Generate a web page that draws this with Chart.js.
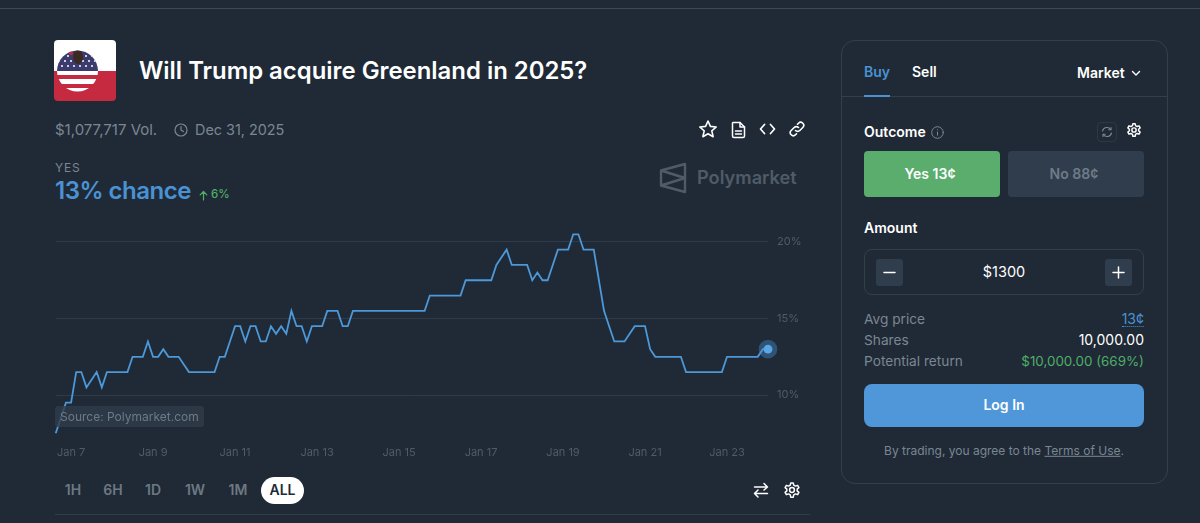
<!DOCTYPE html>
<html>
<head>
<meta charset="utf-8">
<title>Will Trump acquire Greenland in 2025?</title>
<script src="https://cdn.jsdelivr.net/npm/chart.js@4"></script>
<style>
  html, body { margin: 0; padding: 0; width: 1200px; height: 523px; overflow: hidden; background: #1f2a36; font-family: Inter, "Noto Sans", sans-serif; }
  .t { position: absolute; transform: translateY(-50%); white-space: nowrap; line-height: 1.2; }
  .c { transform: translate(-50%, -50%); }
  .r { transform: translate(-100%, -50%); }
  .box { position: absolute; box-sizing: border-box; }
  svg.i { position: absolute; fill: none; stroke-linecap: round; stroke-linejoin: round; }
  .muted { color: #7b8693; }
  .white { color: #fff; }
  .range { font-size: 14px; font-weight: 600; color: #6d7884; }
  #chartWrap { position: absolute; left: 40px; top: 210px; width: 770px; height: 255px; }
</style>
</head>
<body>

<div class="box" style="left:0;top:8px;width:1200px;height:1px;background:#3d4956"></div>

<!-- market icon -->
<svg class="i" style="left:54px;top:40px" width="62" height="61" viewBox="0 0 62 61">
  <defs>
    <clipPath id="card"><rect width="62" height="61" rx="4"/></clipPath>
    <clipPath id="disc"><circle cx="23.5" cy="31" r="20.5"/></clipPath>
  </defs>
  <g clip-path="url(#card)" stroke="none">
    <rect width="62" height="31" fill="#fff"/>
    <rect y="31" width="62" height="30" fill="#c62a40"/>
  </g>
  <g clip-path="url(#disc)" stroke="none">
    <rect x="0" y="8" width="48" height="23" fill="#3c3b6e"/>
    <g fill="#fff">
      <circle cx="8" cy="16" r="1"/><circle cx="14" cy="16" r="1"/><circle cx="32" cy="16" r="1"/><circle cx="38" cy="16" r="1"/>
      <circle cx="5" cy="21" r="1"/><circle cx="11" cy="21" r="1"/><circle cx="17" cy="21" r="1"/><circle cx="29" cy="21" r="1"/><circle cx="35" cy="21" r="1"/><circle cx="41" cy="21" r="1"/>
      <circle cx="8" cy="26" r="1"/><circle cx="14" cy="26" r="1"/><circle cx="20" cy="26" r="1"/><circle cx="26" cy="26" r="1"/><circle cx="32" cy="26" r="1"/><circle cx="38" cy="26" r="1"/>
    </g>
    <rect x="0" y="31" width="48" height="22" fill="#c62a40"/>
    <rect x="0" y="31" width="48" height="4" fill="#fff"/>
    <rect x="0" y="39" width="48" height="5" fill="#fff"/>
    <rect x="0" y="48" width="48" height="5" fill="#fff"/>
    <ellipse cx="24" cy="17" rx="5" ry="7" fill="#3a2a22"/>
    <circle cx="17" cy="13" r="2" fill="#c62a40"/>
  </g>
</svg>
<div class="t white" style="left:139px;top:71px;font-size:23.9px;font-weight:600">Will Trump acquire Greenland in 2025?</div>

<!-- meta row -->
<div class="t muted" style="left:55px;top:130px;font-size:15px">$1,077,717 Vol.</div>
<svg class="i" style="left:174px;top:123px" width="14" height="14" viewBox="0 0 14 14" stroke="#7b8693" stroke-width="1.2"><circle cx="7" cy="7" r="6"/><path d="M7 3.5V7l2.5 1.5"/></svg>
<div class="t muted" style="left:195px;top:130px;font-size:14.4px">Dec 31, 2025</div>

<svg class="i" style="left:698px;top:119px" width="20" height="20" viewBox="0 0 20 20" stroke="#fff" stroke-width="1.6"><path d="M10 2l2.4 5.4 5.8.6-4.4 3.9 1.3 5.8L10 14.700l-5.100 3 1.300-5.800L1.800 8l5.800-.6z"/></svg>
<svg class="i" style="left:731px;top:121px" width="15" height="18" viewBox="0 0 15 18" stroke="#fff" stroke-width="1.5"><path d="M2 1.500h7l4.500 4.500v9a1.500 1.500 0 0 1-1.500 1.500H3A1.500 1.500 0 0 1 1.500 15V2z"/><path d="M9 1.500V6h4.500"/><path d="M4.500 10h6M4.500 13h6"/></svg>
<svg class="i" style="left:759px;top:122px" width="17" height="14" viewBox="0 0 17 14" stroke="#fff" stroke-width="1.7"><path d="M5.500 2.500L1.500 7l4 4.500M11.500 2.500l4 4.500-4 4.500"/></svg>
<svg class="i" style="left:788px;top:120px" width="18" height="18" viewBox="0 0 18 18" stroke="#fff" stroke-width="1.6"><path d="M7.500 10.500a3 3 0 0 0 4.300 0l3-3a3 3 0 0 0-4.300-4.300l-1 1"/><path d="M10.500 7.500a3 3 0 0 0-4.300 0l-3 3a3 3 0 0 0 4.300 4.300l1-1"/></svg>

<!-- chart heading -->
<div class="t muted" style="left:55px;top:168px;font-size:12px;letter-spacing:.8px">YES</div>
<div class="t" style="left:55px;top:191px;font-size:24px;font-weight:600;letter-spacing:-.5px;color:#4a92d4">13% chance</div>
<svg class="i" style="left:199px;top:190px" width="9" height="11" viewBox="0 0 9 11" stroke="#4fae68" stroke-width="1.200"><path d="M4.500 10V1.500M1.200 4.800l3.300-3.300 3.300 3.300"/></svg>
<div class="t" style="left:211px;top:195px;font-size:11.5px;font-weight:500;color:#4fae68">6%</div>

<!-- watermark -->
<svg class="i" style="left:659px;top:162px" width="28" height="32" viewBox="0 0 28 32" stroke="#4f5b68" stroke-width="2.400"><path d="M26 2L2 8.500v15L26 30zM2 8.500L26 16M2 23.500L26 16"/></svg>
<div class="t" style="left:697px;top:178px;font-size:18.2px;font-weight:600;color:#4f5b68">Polymarket</div>

<div id="chartWrap"><canvas id="yesChart" width="770" height="255"></canvas></div>

<div class="box" style="left:55px;top:406px;width:149px;height:21px;background:rgba(49,60,73,.78);border-radius:3px"></div>
<div class="t" style="left:60px;top:416.500px;font-size:12px;color:#6f7a86">Source: Polymarket.com</div>

<!-- range selector -->
<div class="t c range" style="left:73px;top:490px">1H</div>
<div class="t c range" style="left:113px;top:490px">6H</div>
<div class="t c range" style="left:153px;top:490px">1D</div>
<div class="t c range" style="left:195px;top:490px">1W</div>
<div class="t c range" style="left:238px;top:490px">1M</div>
<div class="box" style="left:261px;top:477px;width:43px;height:27px;border-radius:14px;background:#fff"></div>
<div class="t c" style="left:282.500px;top:490px;font-size:14px;font-weight:600;color:#1f2a36">ALL</div>
<svg class="i" style="left:753px;top:482px" width="16" height="16" viewBox="0 0 16 16" stroke="#fff" stroke-width="1.500"><path d="M1.500 5h13M11 1.500L14.500 5 11 8"/><path d="M14.500 11.500h-13M5 8l-3.500 3.500L5 15"/></svg>
<svg class="i" style="left:783px;top:481px" width="18" height="18" viewBox="0 0 24 24" stroke="#fff" stroke-width="2"><circle cx="12" cy="12" r="3.200"/><path d="M10.300 2.500h3.400l.6 3 2.300 1.300 2.900-1 1.700 3-2.300 2v2.400l2.300 2-1.700 3-2.900-1-2.300 1.300-.6 3h-3.400l-.6-3-2.300-1.300-2.900 1-1.700-3 2.300-2v-2.400l-2.300-2 1.700-3 2.900 1 2.300-1.300z"/></svg>
<div class="box" style="left:55px;top:514px;width:755px;height:1px;background:#2f3c4a"></div>

<!-- order panel -->
<div class="box" style="left:841px;top:40px;width:327px;height:444px;border:1px solid #323f4d;border-radius:14px"></div>
<div class="box" style="left:842px;top:96px;width:325px;height:1px;background:#323f4d"></div>
<div class="box" style="left:864px;top:95px;width:26px;height:2px;background:#4a92d4"></div>
<div class="t" style="left:864px;top:72px;font-size:14px;font-weight:600;color:#4a92d4">Buy</div>
<div class="t white" style="left:912px;top:72px;font-size:14px;font-weight:600">Sell</div>
<div class="t white" style="left:1077px;top:73px;font-size:14px;font-weight:600">Market</div>
<svg class="i" style="left:1131px;top:70px" width="10" height="7" viewBox="0 0 10 7" stroke="#fff" stroke-width="1.400"><path d="M1.500 1.500L5 5l3.500-3.500"/></svg>

<div class="t white" style="left:864px;top:132px;font-size:14px;font-weight:600">Outcome</div>
<svg class="i" style="left:931px;top:126px" width="13" height="13" viewBox="0 0 13 13" stroke="#7b8693" stroke-width="1"><circle cx="6.500" cy="6.500" r="5.800"/><path d="M6.500 6v3.200M6.500 3.800v.1"/></svg>
<div class="box" style="left:1097px;top:122px;width:20px;height:20px;border:1px solid #2b3845;border-radius:4px"></div>
<svg class="i" style="left:1101px;top:126px" width="12" height="12" viewBox="0 0 12 12" stroke="#7b8693" stroke-width="1.100"><path d="M1.500 5a4.600 4.600 0 0 1 8.300-1.500M10.500 7a4.600 4.600 0 0 1-8.300 1.500"/><path d="M10 1.500v2.300H7.700M2 10.500V8.200h2.300"/></svg>
<svg class="i" style="left:1126px;top:122px" width="16" height="16" viewBox="0 0 24 24" stroke="#fff" stroke-width="2.200"><circle cx="12" cy="12" r="3.200"/><path d="M10.300 2.500h3.400l.6 3 2.300 1.300 2.900-1 1.700 3-2.300 2v2.400l2.300 2-1.700 3-2.900-1-2.300 1.300-.6 3h-3.400l-.6-3-2.300-1.300-2.900 1-1.700-3 2.300-2v-2.400l-2.300-2 1.700-3 2.900 1 2.300-1.300z"/></svg>

<div class="box" style="left:864px;top:151px;width:136px;height:46px;border-radius:4px;background:#5aad6d"></div>
<div class="t c white" style="left:930px;top:174px;font-size:14px;font-weight:600">Yes 13¢</div>
<div class="box" style="left:1008px;top:151px;width:136px;height:46px;border-radius:4px;background:#2f3d4c"></div>
<div class="t c" style="left:1074px;top:174px;font-size:14px;font-weight:600;color:#6f7b88">No 88¢</div>

<div class="t white" style="left:864px;top:228px;font-size:14px;font-weight:600">Amount</div>
<div class="box" style="left:864px;top:249px;width:280px;height:46px;border:1px solid #323f4d;border-radius:8px"></div>
<div class="box" style="left:876px;top:259px;width:27px;height:27px;border-radius:3px;background:#2f3d4c"></div>
<svg class="i" style="left:883px;top:266px" width="13" height="13" viewBox="0 0 13 13" stroke="#fff" stroke-width="1.500"><path d="M1 6.500h11"/></svg>
<div class="t c white" style="left:1004px;top:272px;font-size:14.500px">$1300</div>
<div class="box" style="left:1105px;top:259px;width:27px;height:27px;border-radius:3px;background:#2f3d4c"></div>
<svg class="i" style="left:1112px;top:266px" width="13" height="13" viewBox="0 0 13 13" stroke="#fff" stroke-width="1.500"><path d="M1 6.500h11M6.500 1v11"/></svg>

<div class="t muted" style="left:864px;top:319px;font-size:13.7px">Avg price</div>
<div class="t r" style="left:1144px;top:319px;font-size:14px;color:#4a92d4;border-bottom:1px dotted #4a92d4;line-height:15px">13¢</div>
<div class="t muted" style="left:864px;top:340px;font-size:13.7px">Shares</div>
<div class="t r white" style="left:1144px;top:340px;font-size:14px">10,000.00</div>
<div class="t muted" style="left:864px;top:361px;font-size:13.7px">Potential return</div>
<div class="t r" style="left:1144px;top:361px;font-size:13.4px;color:#4fae68">$10,000.00 (669%)</div>

<div class="box" style="left:864px;top:384px;width:280px;height:43px;border-radius:8px;background:#4f97d8"></div>
<div class="t c white" style="left:1004px;top:405px;font-size:14px;font-weight:600">Log In</div>
<div class="t c muted" style="left:1004px;top:451px;font-size:12px">By trading, you agree to the <span style="text-decoration:underline">Terms of Use</span>.</div>

<script>
// yes price in %, one reading every 3 hours
const yesValues = [
    7.5, 8.5, 9.5, 9.5, 11.5, 11.5, 10.5, 11, 11.5, 10.5,
    11.5, 11.5, 11.5, 11.5, 11.5, 12.5, 12.5, 12.5, 13.5, 12.5,
    12.5, 13, 12.5, 12.5, 12.5, 12, 11.5, 11.5, 11.5, 11.5,
    11.5, 11.5, 12.5, 12.5, 13.5, 14.5, 14.5, 13.5, 14.5, 14.5,
    13.5, 13.5, 14.5, 14, 14.5, 14, 15.5, 14.5, 14.5, 13.5,
    14.5, 14.5, 14.5, 15.5, 15.5, 15.5, 14.5, 14.5, 15.5, 15.5,
    15.5, 15.5, 15.5, 15.5, 15.5, 15.5, 15.5, 15.5, 15.5, 15.5,
    15.5, 15.5, 15.5, 16.5, 16.5, 16.5, 16.5, 16.5, 16.5, 16.5,
    17.5, 17.5, 17.5, 17.5, 17.5, 17.5, 18.5, 19, 19.5, 18.5,
    18.5, 18.5, 18.5, 17.5, 18, 17.5, 17.5, 18.5, 19.5, 19.5,
    19.5, 20.5, 20.5, 19.5, 19.5, 19.5, 17.5, 15.5, 14.5, 13.5,
    13.5, 13.5, 14, 14.5, 14.5, 14.5, 13, 12.5, 12.5, 12.5,
    12.5, 12.5, 12.5, 11.5, 11.5, 11.5, 11.5, 11.5, 11.5, 11.5,
    11.5, 12.5, 12.5, 12.5, 12.5, 12.5, 12.5, 12.5, 13, 13
];
const dateLabels = ['Jan 7', 'Jan 9', 'Jan 11', 'Jan 13', 'Jan 15', 'Jan 17', 'Jan 19', 'Jan 21', 'Jan 23'];
const dateIndexes = [3, 19, 35, 51, 67, 83, 99, 115, 131]; // reading index of each date label
const percentTicks = [10, 15, 20];

const lastIndex = yesValues.length - 1;
const labels = yesValues.map((v, i) => {
    const pos = dateIndexes.indexOf(i);
    return pos >= 0 ? dateLabels[pos] : '';
});

const ctx = document.getElementById('yesChart').getContext('2d');
const yesChart = new Chart(ctx, {
    type: 'line',
    data: {
        labels: labels,
        datasets: [
            {
                // current value dot
                data: yesValues.map((v, i) => i === lastIndex ? v : null),
                showLine: false,
                pointRadius: 4.4,
                pointBackgroundColor: '#5aa5e6',
                pointBorderWidth: 0,
                clip: false
            },
            {
                // halo behind the dot
                data: yesValues.map((v, i) => i === lastIndex ? v : null),
                showLine: false,
                pointRadius: 9.3,
                pointBackgroundColor: 'rgba(74, 146, 212, 0.4)',
                pointBorderWidth: 0,
                clip: false
            },
            {
                data: yesValues,
                borderColor: '#4c98d8',
                borderWidth: 1.8,
                tension: 0,
                pointRadius: 0,
                clip: false
            }
        ]
    },
    options: {
        responsive: false,
        animation: false,
        maintainAspectRatio: false,
        layout: { padding: { left: 15.7, top: 0, right: 0, bottom: 0 } },
        plugins: { legend: { display: false }, tooltip: { enabled: false } },
        scales: {
            x: {
                type: 'category',
                offset: false,
                grid: { display: false, drawTicks: false },
                border: { display: false },
                ticks: {
                    autoSkip: false,
                    maxRotation: 0,
                    padding: 11,
                    color: '#4f5b68',
                    font: { family: 'Inter', size: 11 }
                },
                afterFit: (scale) => { scale.height = 30; }
            },
            y: {
                position: 'right',
                min: 7.39,
                max: 21.07,
                grid: { color: '#2f3b48', lineWidth: 1, drawTicks: false },
                border: { display: false },
                afterBuildTicks: (scale) => { scale.ticks = percentTicks.map(v => ({ value: v })); },
                ticks: {
                    padding: 9,
                    color: '#4f5b68',
                    font: { family: 'Inter', size: 11 },
                    callback: (v) => v + '%'
                },
                afterFit: (scale) => { scale.width = 42; }
            }
        }
    }
});
</script>
</body>
</html>
